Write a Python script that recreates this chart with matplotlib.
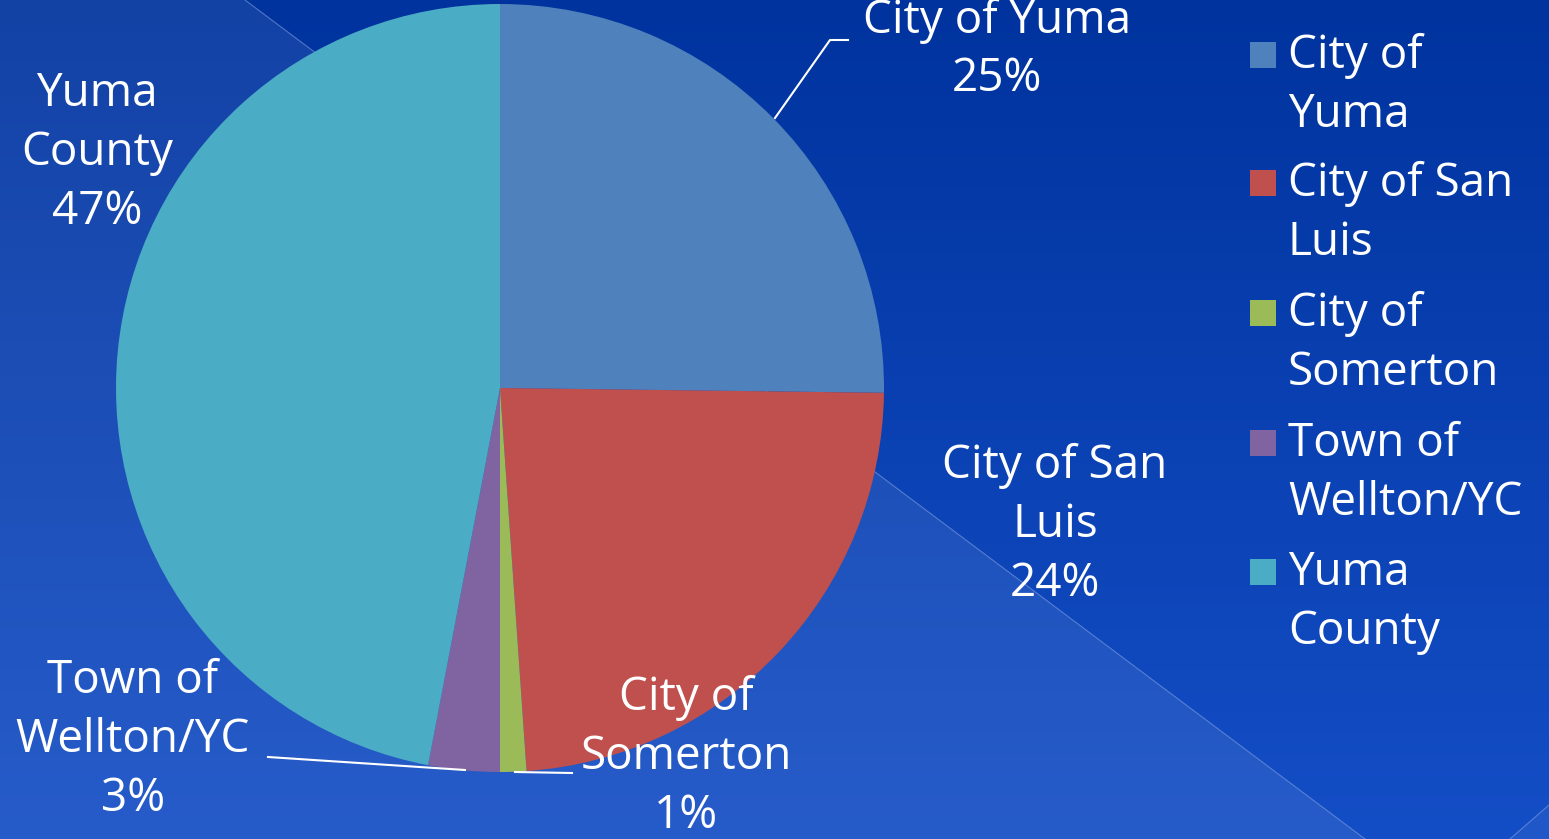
import numpy as np
import matplotlib
matplotlib.use("Agg")
import matplotlib.pyplot as plt
from matplotlib.patches import Polygon, Rectangle

# ---- data ----
categories = ["City of Yuma", "City of San Luis", "City of Somerton",
              "Town of Wellton/YC", "Yuma County"]
legend_labels = ["City of\nYuma", "City of San\nLuis", "City of\nSomerton",
                 "Town of\nWellton/YC", "Yuma\nCounty"]
slice_labels = ["City of Yuma", "City of San\nLuis", "City of\nSomerton",
                "Town of\nWellton/YC", "Yuma\nCounty"]
values = [25.2, 23.7, 1.1, 3.0, 47.0]
colors = ["#4f81bd", "#c0504d", "#9bbb59", "#8064a2", "#4bacc6"]

W, H = 1549, 839
FONT = "Open Sans"
FS = 33
LS = 1.36

fig = plt.figure(figsize=(W / 100, H / 100), dpi=100)

# ---- background ----
bg = fig.add_axes([0, 0, 1, 1], zorder=0)
grad = np.linspace(0, 1, 256).reshape(-1, 1)
c_top = np.array([0x00, 0x33, 0x9e]) / 255
c_bot = np.array([0x14, 0x4e, 0xc6]) / 255
img = c_top[None, None, :] * (1 - grad[:, :, None]) + c_bot[None, None, :] * grad[:, :, None]
bg.imshow(img, extent=[0, W, H, 0], aspect="auto")
bg.add_patch(Polygon([[0, 0], [245, 0], [1365, H], [0, H]], closed=True,
                     facecolor="white", alpha=0.08, edgecolor="none"))
bg.plot([245, 1365], [0, H], color="#7f9fe0", lw=0.8, alpha=0.6)
bg.add_patch(Polygon([[1549, 805], [1510, H], [1549, H]], closed=True,
                     facecolor="white", alpha=0.06, edgecolor="none"))
bg.plot([1549, 1510], [805, H], color="#7f9fe0", lw=0.8, alpha=0.6)
bg.set_xlim(0, W)
bg.set_ylim(H, 0)
bg.axis("off")

# ---- pie ----
cx, cy, r = 500, 388, 384
ax = fig.add_axes([(cx - r) / W, (H - cy - r) / H, 2 * r / W, 2 * r / H], zorder=1)
ax.patch.set_alpha(0)
wedges, _ = ax.pie(values, colors=colors, startangle=90, counterclock=False,
                   radius=1, wedgeprops=dict(edgecolor="none"))
ax.set_xlim(-1, 1)
ax.set_ylim(-1, 1)
ax.set_aspect("equal")
ax.axis("off")


def d(px, py):
    return ((px - cx) / r, (cy - py) / r)


# label placements (pixel centers)
label_pos = [(997, 50), (1055, 525), (686, 757), (133, 740), (97, 153)]
tot = sum(values)
for lab, v, (px, py) in zip(slice_labels, values, label_pos):
    x, y = d(px, py)
    ax.text(x, y, f"{lab}\n{round(v / tot * 100):.0f}%", ha="center", va="center",
            color="white", fontsize=FS, family=FONT, linespacing=LS,
            clip_on=False)

# leader lines
leaders = [
    [(775, 118), (830, 40), (848, 40)],
    [(465, 770), (268, 757)],
    [(515, 772), (572, 773)],
]
for pts in leaders:
    xs, ys = zip(*[d(*p) for p in pts])
    ax.plot(xs, ys, color="white", lw=1.5, clip_on=False)

# ---- legend ----
leg_y = [55, 183, 313, 443, 572]
for lab, col, y in zip(legend_labels, colors, leg_y):
    fig.patches.append(Rectangle((1250 / W, 1 - (y + 13) / H), 26 / W, 26 / H,
                                 transform=fig.transFigure, facecolor=col,
                                 edgecolor="none", zorder=2))
    fig.text(1288 / W, 1 - (y - 22) / H, lab, ha="left", va="top",
             color="white", fontsize=FS, family=FONT, linespacing=LS, zorder=3)

fig.savefig("out.png", dpi=100)
